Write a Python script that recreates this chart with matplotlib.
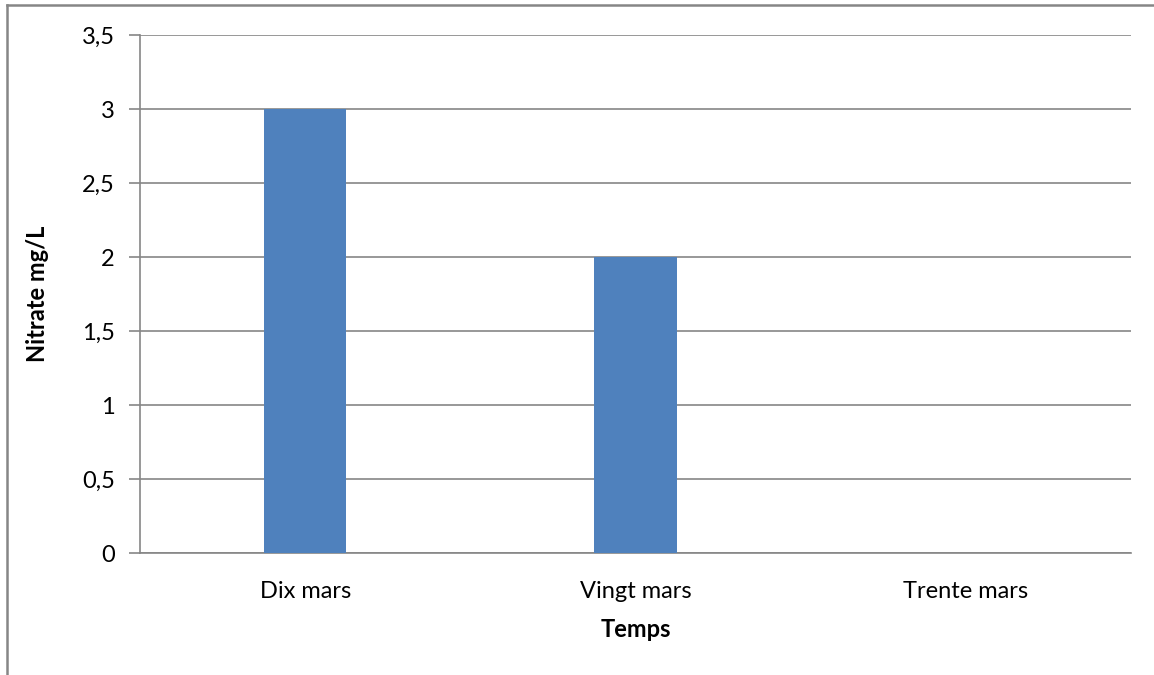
import matplotlib.pyplot as plt
from matplotlib.lines import Line2D

categories = ["Dix mars", "Vingt mars", "Trente mars"]
nitrate = [3.0, 2.0, 0.0]
yticks = [0, 0.5, 1, 1.5, 2, 2.5, 3, 3.5]
ytick_labels = ["0", "0,5", "1", "1,5", "2", "2,5", "3", "3,5"]

plt.rcParams['font.family'] = ['Lato', 'DejaVu Sans']
grey = "#868686"

fig = plt.figure(figsize=(11.54, 6.75), dpi=100)
ax = fig.add_axes([0.1213, 0.1807, 0.8588, 0.7674])

x = range(len(categories))
ax.bar(x, nitrate, width=0.25, color="#4F81BD", zorder=3)

ax.set_xlim(-0.5, 2.5)
ax.set_ylim(0, 3.5)
ax.set_yticks(yticks)
ax.set_yticklabels(ytick_labels, fontsize=17)
ax.set_xticks(list(x))
ax.set_xticklabels(categories, fontsize=17)
ax.tick_params(axis='y', length=8, color=grey, width=1.2, pad=10)
ax.tick_params(axis='x', length=0, pad=20)

ax.grid(axis='y', color=grey, linewidth=1.2, zorder=0)
for side in ["top", "right"]:
    ax.spines[side].set_visible(False)
for side in ["left", "bottom"]:
    ax.spines[side].set_color(grey)
    ax.spines[side].set_linewidth(1.2)

ax.set_xlabel("Temps", fontsize=17, fontweight="bold", labelpad=12)
ax.set_ylabel("Nitrate mg/L", fontsize=17, fontweight="bold", labelpad=24)

# chart frame, left and top edges
fig.add_artist(Line2D([0.0061, 0.0061], [0.0, 0.9933], color=grey, linewidth=1.8))
fig.add_artist(Line2D([0.0061, 1.0], [0.9933, 0.9933], color=grey, linewidth=1.8))

fig.savefig("out.png", dpi=100)
